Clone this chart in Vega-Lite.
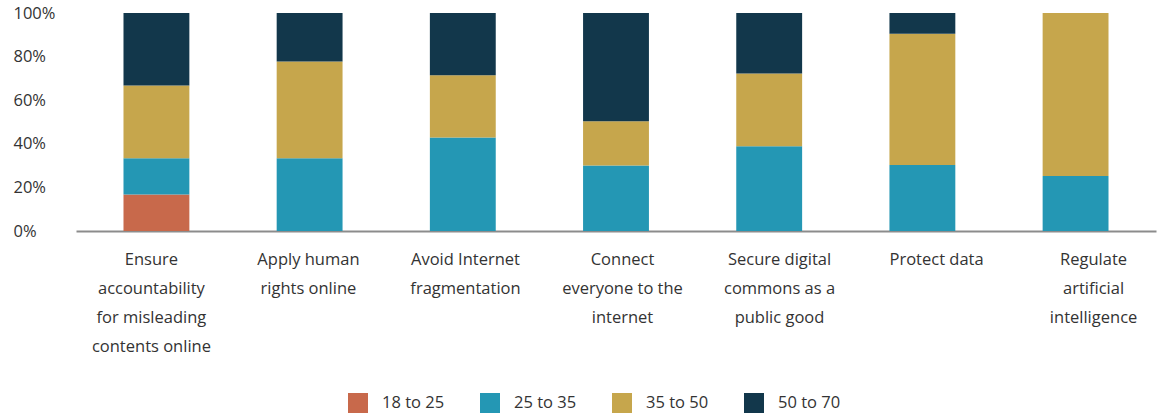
{
  "$schema": "https://vega.github.io/schema/vega-lite/v6.json",
  "width": 1080,
  "height": 218,
  "autosize": {"type": "none"},
  "padding": {"left": 76, "top": 13, "right": 2, "bottom": 184},
  "background": "white",
  "config": {"view": {"stroke": null}},
  "data": {
    "values": [
      {"category": "Ensure|accountability|for misleading|contents online", "age": "18 to 25", "share": 16.7},
      {"category": "Ensure|accountability|for misleading|contents online", "age": "25 to 35", "share": 16.7},
      {"category": "Ensure|accountability|for misleading|contents online", "age": "35 to 50", "share": 33.3},
      {"category": "Ensure|accountability|for misleading|contents online", "age": "50 to 70", "share": 33.3},
      {"category": "Apply human|rights online", "age": "25 to 35", "share": 33.4},
      {"category": "Apply human|rights online", "age": "35 to 50", "share": 44.4},
      {"category": "Apply human|rights online", "age": "50 to 70", "share": 22.2},
      {"category": "Avoid Internet|fragmentation", "age": "25 to 35", "share": 42.9},
      {"category": "Avoid Internet|fragmentation", "age": "35 to 50", "share": 28.6},
      {"category": "Avoid Internet|fragmentation", "age": "50 to 70", "share": 28.5},
      {"category": "Connect|everyone to the|internet", "age": "25 to 35", "share": 30.0},
      {"category": "Connect|everyone to the|internet", "age": "35 to 50", "share": 20.3},
      {"category": "Connect|everyone to the|internet", "age": "50 to 70", "share": 49.7},
      {"category": "Secure digital|commons as a|public good", "age": "25 to 35", "share": 38.9},
      {"category": "Secure digital|commons as a|public good", "age": "35 to 50", "share": 33.3},
      {"category": "Secure digital|commons as a|public good", "age": "50 to 70", "share": 27.8},
      {"category": "Protect data", "age": "25 to 35", "share": 30.3},
      {"category": "Protect data", "age": "35 to 50", "share": 60.2},
      {"category": "Protect data", "age": "50 to 70", "share": 9.5},
      {"category": "Regulate|artificial|intelligence", "age": "25 to 35", "share": 25.2},
      {"category": "Regulate|artificial|intelligence", "age": "35 to 50", "share": 74.8}
    ]
  },
  "mark": {"type": "bar"},
  "encoding": {
    "x": {
      "field": "category",
      "type": "nominal",
      "sort": null,
      "scale": {"paddingInner": 0.57, "paddingOuter": 0.31},
      "axis": {
        "title": null,
        "labelAngle": 0,
        "labelExpr": "split(datum.label, '|')",
        "labelFont": "Open Sans",
        "labelFontSize": 16.5,
        "labelColor": "#333333",
        "labelLineHeight": 29,
        "labelPadding": 20,
        "labelBaseline": "top",
        "labelLimit": 0,
        "labelOffset": {"expr": "-5 + datum.index * 23"},
        "ticks": false,
        "tickSize": 0,
        "domainColor": "#8c8c8c",
        "domainWidth": 2
      }
    },
    "y": {
      "field": "share",
      "type": "quantitative",
      "stack": "normalize",
      "scale": {"domain": [0, 1]},
      "axis": {
        "title": null,
        "format": ".0%",
        "values": [0, 0.2, 0.4, 0.6, 0.8, 1],
        "grid": false,
        "domain": false,
        "ticks": false,
        "tickSize": 0,
        "labelAlign": "left",
        "labelPadding": 63,
        "labelFont": "Open Sans",
        "labelFontSize": 16.5,
        "labelColor": "#333333"
      }
    },
    "color": {
      "field": "age",
      "type": "nominal",
      "scale": {
        "domain": ["18 to 25", "25 to 35", "35 to 50", "50 to 70"],
        "range": ["#C8694B", "#2497B4", "#C6A64C", "#12374B"]
      },
      "legend": {
        "title": null,
        "orient": "none",
        "legendX": 272,
        "legendY": 380,
        "direction": "horizontal",
        "symbolType": "square",
        "symbolSize": 400,
        "symbolStrokeWidth": 0,
        "symbolOpacity": 1,
        "labelFont": "Open Sans",
        "labelFontSize": 16.5,
        "labelColor": "#333333",
        "labelOffset": 14,
        "columnPadding": 35
      }
    },
    "order": {"field": "age", "sort": "ascending"}
  }
}
